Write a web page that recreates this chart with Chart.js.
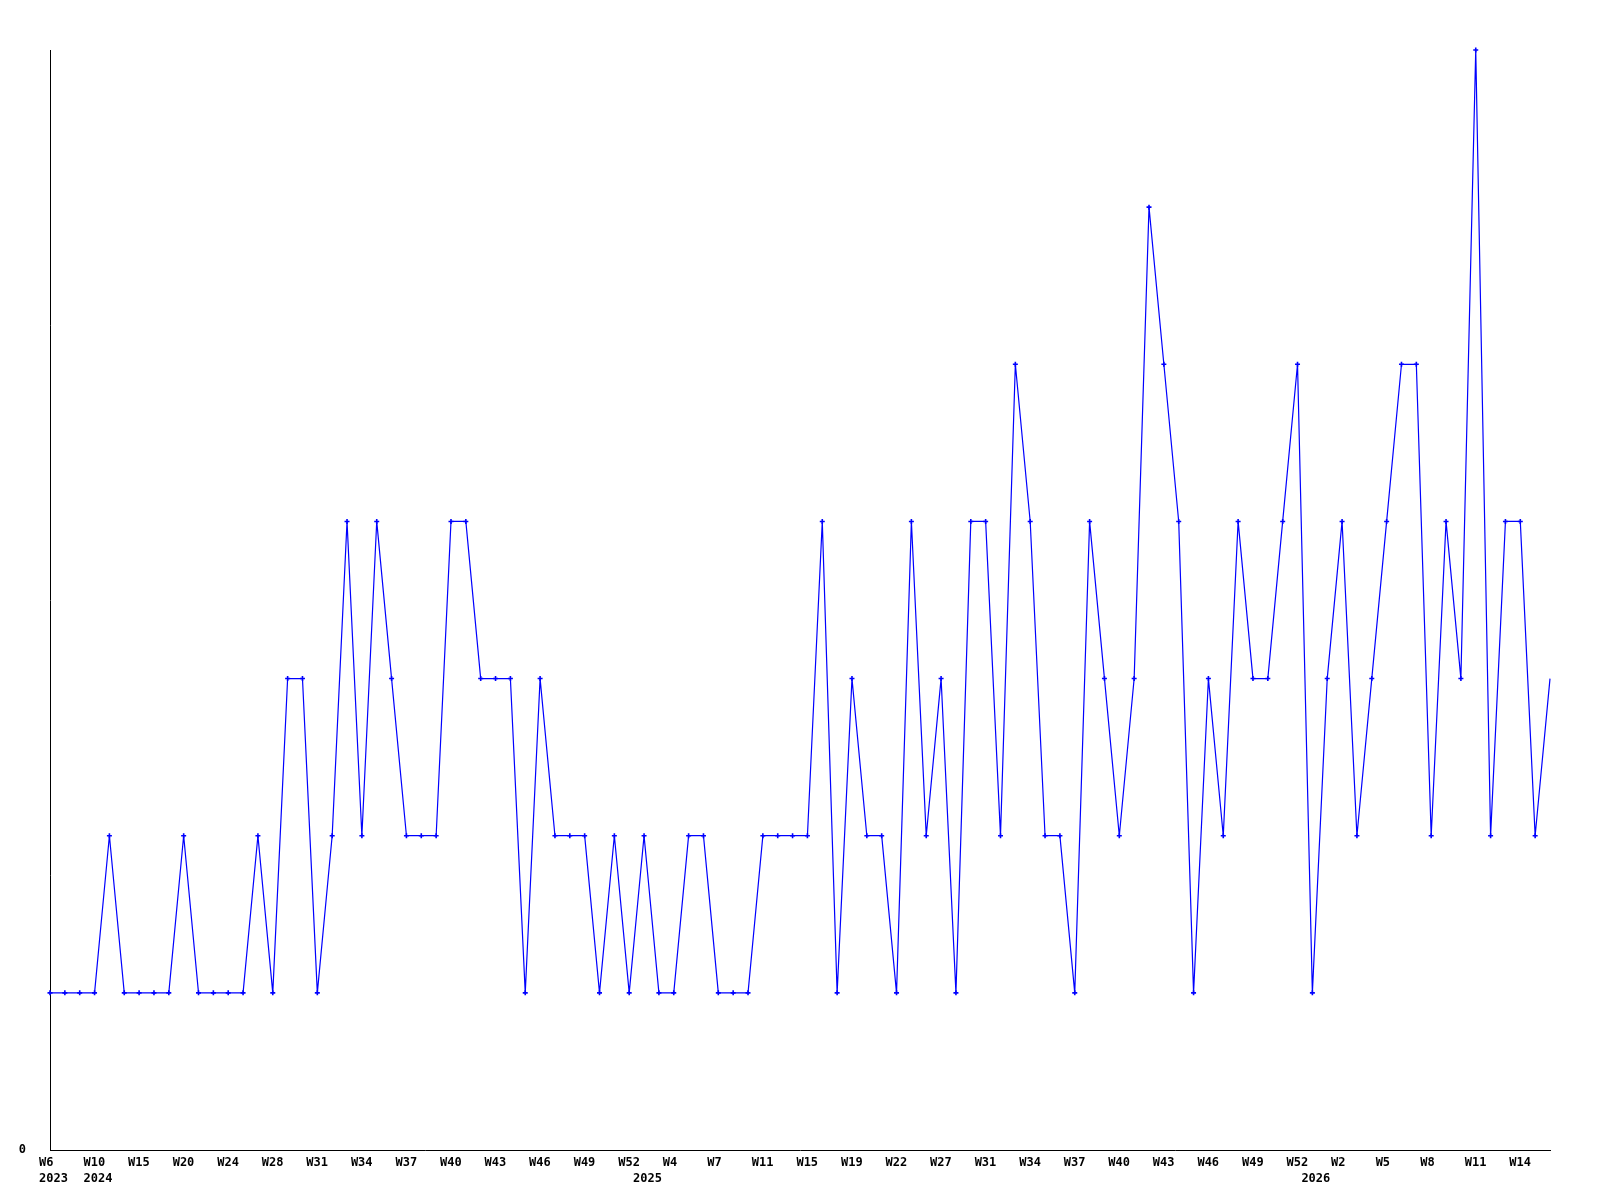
<!DOCTYPE html>
<html>
<head>
<meta charset="utf-8">
<script src="https://cdn.jsdelivr.net/npm/chart.js@4/dist/chart.umd.min.js"></script>
<style>
  body { margin: 0; background: #fff; }
  #wrap { width: 1600px; height: 1200px; }
</style>
</head>
<body>
<div id="wrap"><canvas id="weeklyChart" width="1600" height="1200"></canvas></div>
<script>
// weekly counts, one point per week that has data
const weeks = [
  "W6", "W7", "W9",
  "W10", "W12", "W13", "W15", "W17", "W18", "W20", "W21", "W22", "W24",
  "W25", "W27", "W28", "W29", "W30", "W31", "W32", "W33", "W34", "W35",
  "W36", "W37", "W38", "W39", "W40", "W41", "W42", "W43", "W44", "W45",
  "W46", "W47", "W48", "W49", "W50", "W51", "W52",
  "W0", "W3", "W4", "W5", "W6", "W7", "W8", "W10", "W11", "W12", "W13",
  "W15", "W16", "W18", "W19", "W20", "W21", "W22", "W24", "W25", "W27",
  "W28", "W30", "W31", "W32", "W33", "W34", "W35", "W36", "W37", "W38",
  "W39", "W40", "W41", "W42", "W43", "W44", "W45", "W46", "W47", "W48",
  "W49", "W50", "W51", "W52",
  "W0", "W1", "W2", "W3", "W4", "W5", "W6", "W7", "W8", "W9", "W10",
  "W11", "W12", "W13", "W14", "W15", "W16"
];
const years = [
  2023, 2023, 2023,
  ...Array(37).fill(2024),
  ...Array(45).fill(2025),
  ...Array(17).fill(2026)
];
const counts = [
  1, 1, 1, 1, 2, 1, 1, 1, 1, 2,
  1, 1, 1, 1, 2, 1, 3, 3, 1, 2,
  4, 2, 4, 3, 2, 2, 2, 4, 4, 3,
  3, 3, 1, 3, 2, 2, 2, 1, 2, 1,
  2, 1, 1, 2, 2, 1, 1, 1, 2, 2,
  2, 2, 4, 1, 3, 2, 2, 1, 4, 2,
  3, 1, 4, 4, 2, 5, 4, 2, 2, 1,
  4, 3, 2, 3, 6, 5, 4, 1, 3, 2,
  4, 3, 3, 4, 5, 1, 3, 4, 2, 3,
  4, 5, 5, 2, 4, 3, 7, 2, 4, 4,
  2, 3
];
const yMax = 7;

const tickFont = { family: "'DejaVu Sans Mono', monospace", size: 12, weight: "bold", lineHeight: 1.3 };

// week label every 3rd point, year under the first point of each year
function xTick(value, i) {
  const w = i % 3 === 0 ? weeks[i] : "";
  const y = i === 0 || years[i] !== years[i - 1] ? String(years[i]) : "";
  if (!w && !y) return null;
  return y ? [w, y] : w;
}

new Chart(document.getElementById("weeklyChart"), {
  type: "line",
  data: {
    labels: weeks,
    datasets: [{
      data: counts,
      borderColor: "#0000ff",
      borderWidth: 1.2,
      backgroundColor: "#0000ff",
      pointStyle: "cross",
      pointRadius: (ctx) => (ctx.dataIndex === counts.length - 1 ? 0 : 2.5),
      pointBorderWidth: 1.6,
      pointBorderColor: "#0000ff",
      tension: 0,
      fill: false,
      clip: false,
    }],
  },
  options: {
    responsive: false,
    animation: false,
    layout: { padding: { top: 50, right: 50, left: 0, bottom: 0 } },
    plugins: { legend: { display: false }, tooltip: { enabled: false } },
    scales: {
      x: {
        type: "category",
        offset: false,
        grid: { display: false },
        border: { display: true, color: "#000", width: 1 },
        ticks: {
          autoSkip: false,
          maxRotation: 0,
          minRotation: 0,
          align: "start",
          labelOffset: -11,
          padding: -3,
          color: "#000",
          font: tickFont,
          callback: xTick,
        },
        afterFit: (s) => { s.height = 50; },
      },
      y: {
        min: 0,
        max: yMax,
        grid: { display: false },
        border: { display: true, color: "#000", width: 1 },
        ticks: {
          stepSize: 1,
          padding: 16,
          color: "#000",
          font: tickFont,
          callback: (v) => (v === 0 ? "0" : null),
        },
        afterFit: (s) => { s.width = 50; },
      },
    },
  },
});
</script>
</body>
</html>
